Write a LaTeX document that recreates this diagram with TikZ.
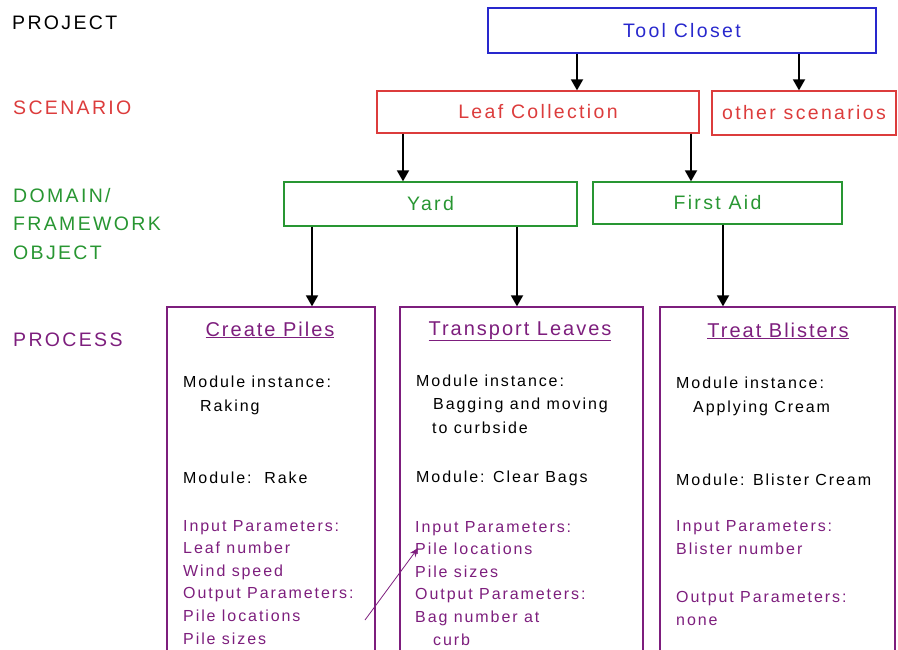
\documentclass[tikz,border=0pt]{standalone}
\usepackage{fontspec}
\setmainfont{Liberation Sans}[LetterSpace=12]
\usetikzlibrary{arrows.meta}

\definecolor{projblue}{RGB}{40,40,205}
\definecolor{scenred}{RGB}{220,60,60}
\definecolor{domgreen}{RGB}{40,150,50}
\definecolor{procpurple}{RGB}{125,30,125}

\begin{document}
\begin{tikzpicture}[x=1pt,y=-1pt,
  lvl/.style={font=\fontsize{19.5}{29}\selectfont, anchor=base west, inner sep=0, align=left},
  tbox/.style n args={3}{draw=#3, text=#3, line width=1.3pt, minimum width=#1pt,
     minimum height=#2pt, inner sep=0, font=\fontsize{19.5}{22}\selectfont},
  pbox/.style n args={2}{draw=procpurple, line width=1.3pt, minimum width=#1pt,
     minimum height=#2pt, inner sep=0},
  ptitle/.style={text=procpurple, font=\fontsize{20}{24}\selectfont\addfontfeature{LetterSpace=10}, inner sep=0, anchor=base},
  body/.style={font=\fontsize{16}{23.5}\selectfont, anchor=base west, inner sep=0, align=left},
  param/.style={body, text=procpurple, font=\fontsize{16}{22.6}\selectfont},
  arr/.style={line width=1.8pt, -{Triangle[width=12pt,length=11pt]}},
  link/.style={procpurple, line width=0.8pt, -{Stealth[width=7pt,length=9pt]}}]

\useasboundingbox (0,0) rectangle (898,650);
\clip (0,0) rectangle (898,650);

% level labels down the left margin (a multi-line node sits on its last baseline)
\node[lvl] (lproj) at (12,30) {PROJECT};
\node[lvl, text=scenred] (lscen) at (13,115) {SCENARIO};
\node[lvl, text=domgreen] (ldom) at (13,260) {DOMAIN/\\FRAMEWORK\\OBJECT};
\node[lvl, text=procpurple] (lproc) at (13,346) {PROCESS};

% project, scenario and domain boxes
\node[tbox={388}{45}{projblue}] (tool) at (682,30.5) {Tool Closet};
\node[tbox={322}{42}{scenred}] (leaf) at (538,112) {Leaf Collection};
\node[tbox={184}{44}{scenred}] (other) at (804,113) {other scenarios};
\node[tbox={293}{44}{domgreen}] (yard) at (430.5,204) {Yard};
\node[tbox={249}{42}{domgreen}] (aid) at (717.5,203) {First Aid};

% process boxes (they run past the lower edge)
\node[pbox={208}{360}] (pile) at (271,487) {};
\node[pbox={243}{360}] (trans) at (521.5,487) {};
\node[pbox={235}{360}] (blis) at (777.5,487) {};

% columns of the connectors
\coordinate (x1) at (577,0);
\coordinate (x2) at (799,0);
\coordinate (x3) at (403,0);
\coordinate (x4) at (691,0);
\coordinate (x5) at (312,0);
\coordinate (x6) at (517,0);
\coordinate (x7) at (723,0);

\draw[arr] (tool.south -| x1) -- (leaf.north -| x1);
\draw[arr] (tool.south -| x2) -- (other.north -| x2);
\draw[arr] (leaf.south -| x3) -- (yard.north -| x3);
\draw[arr] (leaf.south -| x4) -- (aid.north -| x4);
\draw[arr] (yard.south -| x5) -- (pile.north -| x5);
\draw[arr] (yard.south -| x6) -- (trans.north -| x6);
\draw[arr] (aid.south -| x7) -- (blis.north -| x7);

% Create Piles
\node[ptitle] (t1) at (270,336) {\underline{Create Piles}};
\node[body] (i1) at (183,411) {Module instance:\\\hspace*{17pt}Raking};
\node[body] (m1) at (183,483) {Module:\ \ Rake};
\node[param] (p1) at (183,644) {Input Parameters:\\Leaf number\\Wind speed\\Output Parameters:\\Pile locations\\Pile sizes};

% Transport Leaves
\node[ptitle] (t2) at (520,335) {\underline{Transport Leaves}};
\node[body] (i2) at (416,433) {Module instance:\\\hspace*{17pt}Bagging and moving\\\hspace*{16pt}to curbside};
\node[body] (m2) at (416,482) {Module: Clear Bags};
\node[param] (p2) at (415,645) {Input Parameters:\\Pile locations\\Pile sizes\\Output Parameters:\\Bag number at\\\hspace*{18pt}curb};

% Treat Blisters
\node[ptitle] (t3) at (778,337) {\underline{Treat Blisters}};
\node[body] (i3) at (676,412) {Module instance:\\\hspace*{17pt}Applying Cream};
\node[body] (m3) at (676,485) {Module: Blister Cream};
\node[param] (p3) at (676,554) {Input Parameters:\\Blister number};
\node[param] (q3) at (676,625) {Output Parameters:\\none};

% output of Create Piles feeds the input of Transport Leaves
\coordinate (from) at (365,620);
\coordinate (to) at (418,548);
\draw[link] (from) -- (to);

\end{tikzpicture}
\end{document}
